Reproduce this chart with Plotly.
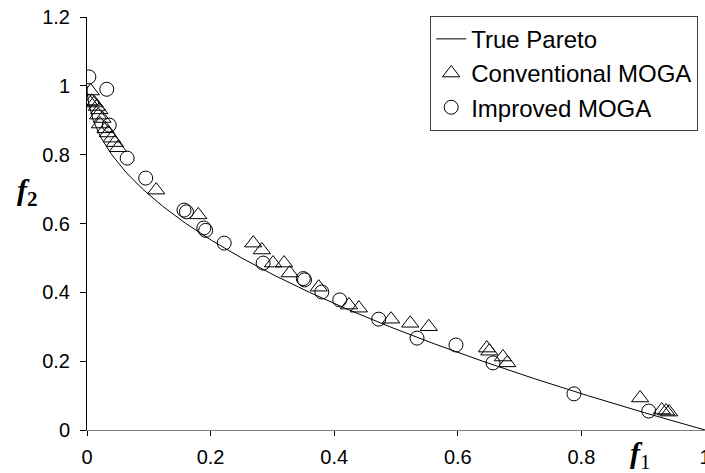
import plotly.graph_objects as go

# True Pareto front
pareto_f1 = [0.0, 0.0004, 0.0025, 0.01, 0.0225, 0.04, 0.0625, 0.09, 0.1225, 0.16, 0.2025,
             0.25, 0.3025, 0.36, 0.4225, 0.49, 0.5625, 0.64, 0.7225, 0.81, 0.9025, 1.0]
pareto_f2 = [1.0, 0.98, 0.95, 0.9, 0.85, 0.8, 0.75, 0.7, 0.65, 0.6, 0.55,
             0.5, 0.45, 0.4, 0.35, 0.3, 0.25, 0.2, 0.15, 0.1, 0.05, 0.0]

# Conventional MOGA (triangles)
conv_f1 = [0.006, 0.003, 0.008, 0.012, 0.016, 0.020, 0.018, 0.025, 0.021, 0.030, 0.034,
           0.040, 0.045, 0.050, 0.112, 0.180, 0.269, 0.283, 0.301, 0.319, 0.328,
           0.375, 0.424, 0.440, 0.492, 0.523, 0.553, 0.647, 0.651, 0.673, 0.680,
           0.895, 0.930, 0.937, 0.942]
conv_f2 = [0.985, 0.955, 0.955, 0.950, 0.940, 0.930, 0.915, 0.905, 0.889, 0.875, 0.863,
           0.848, 0.835, 0.820, 0.697, 0.625, 0.543, 0.523, 0.485, 0.485, 0.456,
           0.415, 0.363, 0.354, 0.322, 0.310, 0.300, 0.238, 0.229, 0.212, 0.195,
           0.093, 0.058, 0.055, 0.052]

# Improved MOGA (circles)
imp_f1 = [0.003, 0.032, 0.036, 0.065, 0.095, 0.157, 0.161, 0.189, 0.192, 0.222,
          0.285, 0.350, 0.352, 0.380, 0.409, 0.472, 0.534, 0.597, 0.657, 0.788, 0.909]
imp_f2 = [1.026, 0.990, 0.886, 0.790, 0.732, 0.639, 0.634, 0.587, 0.580, 0.543,
          0.485, 0.440, 0.436, 0.401, 0.378, 0.322, 0.267, 0.247, 0.195, 0.105, 0.055]

x_ticks = [0, 0.2, 0.4, 0.6, 0.8, 1]
x_ticktext = ["0", "0.2", "0.4", "0.6", "0.8", "1"]
y_ticks = [0, 0.2, 0.4, 0.6, 0.8, 1, 1.2]
y_ticktext = ["0", "0.2", "0.4", "0.6", "0.8", "1", "1.2"]

SANS = '"Liberation Sans", Arial, sans-serif'
SERIF = '"Liberation Serif", "Times New Roman", serif'

fig = go.Figure()
fig.add_trace(go.Scatter(x=pareto_f1, y=pareto_f2, mode="lines", name="True Pareto",
                         line=dict(color="black", width=1)))
fig.add_trace(go.Scatter(x=conv_f1, y=conv_f2, mode="markers", name="Conventional MOGA",
                         marker=dict(symbol="triangle-up-open", size=15, color="black",
                                     line=dict(width=1, color="black"))))
fig.add_trace(go.Scatter(x=imp_f1, y=imp_f2, mode="markers", name="Improved MOGA",
                         marker=dict(symbol="circle-open", size=14, color="black",
                                     line=dict(width=1, color="black"))))

tick_font = dict(family=SANS, size=20, color="black")

fig.update_layout(
    width=705, height=473,
    margin=dict(l=87, r=0, t=17, b=43),
    paper_bgcolor="white", plot_bgcolor="white",
    font=dict(family=SANS, color="black"),
    showlegend=True,
    legend=dict(x=0.989, y=1.003, xanchor="right", yanchor="top",
                bgcolor="white", bordercolor="#404040", borderwidth=1,
                font=dict(family=SANS, size=24, color="black"),
                itemsizing="trace"),
    xaxis=dict(range=[0, 1], tickvals=x_ticks, ticktext=x_ticktext, showgrid=False,
               zeroline=False, showline=True, linecolor="#808080", linewidth=1,
               ticks="outside", ticklen=5, tickcolor="black", tickfont=tick_font,
               ticklabelstandoff=4, ticklabeloverflow="allow", automargin=False),
    yaxis=dict(range=[0, 1.2], tickvals=y_ticks, ticktext=y_ticktext, showgrid=False,
               zeroline=False, showline=True, linecolor="black", linewidth=1,
               ticks="outside", ticklen=6, tickcolor="black", tickfont=tick_font,
               ticklabelstandoff=6, ticklabeloverflow="allow", automargin=False),
    annotations=[
        dict(text="<b><i>f</i><sub>2</sub></b>", xref="paper", yref="paper",
             x=-0.116, y=0.576, showarrow=False,
             font=dict(family=SERIF, size=30, color="black")),
        dict(text="<b><i>f</i></b><sub>1</sub>", xref="paper", yref="paper",
             x=0.916, y=-0.068, yshift=-18, showarrow=False,
             font=dict(family=SERIF, size=30, color="black")),
    ],
)

fig.write_html("out.html")
